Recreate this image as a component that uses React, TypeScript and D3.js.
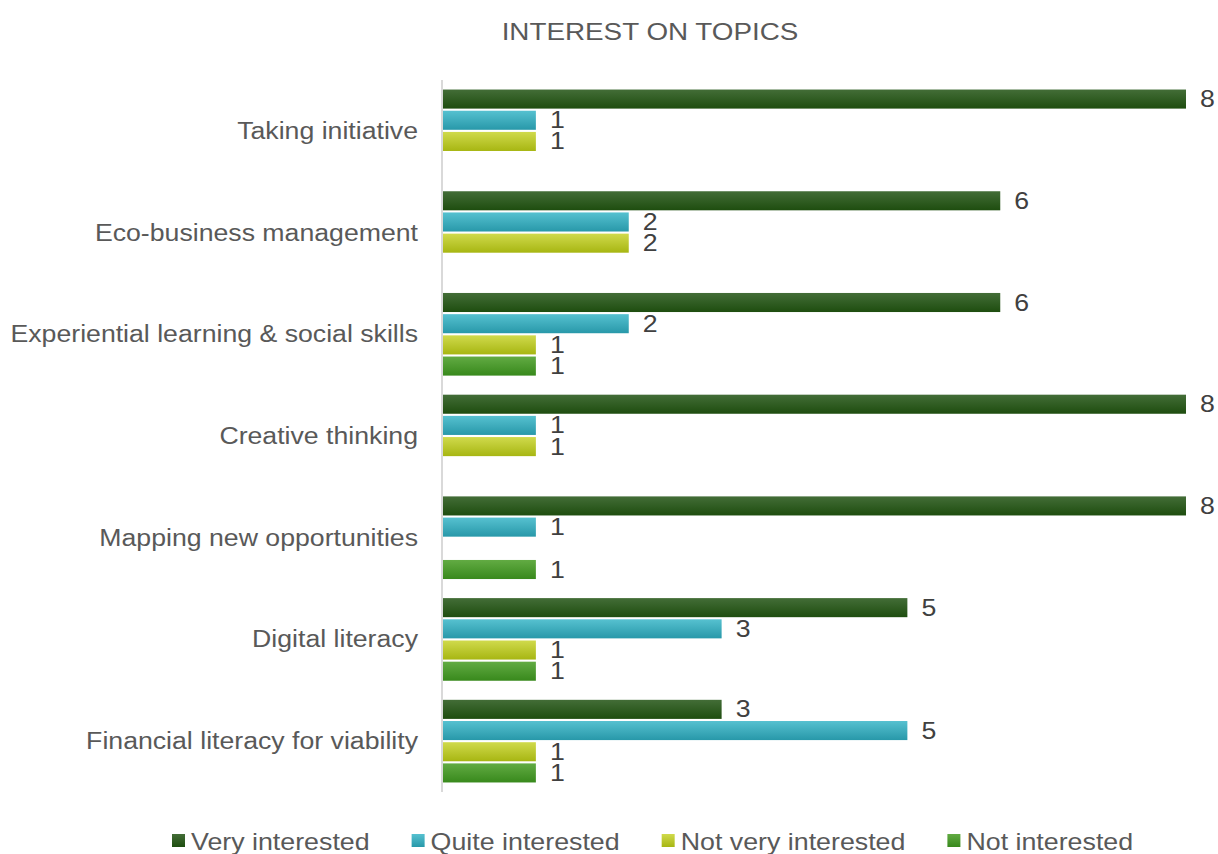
import React, { useEffect, useRef } from "react";
import * as d3 from "d3";

const categories = [
  "Taking initiative",
  "Eco-business management",
  "Experiential learning & social skills",
  "Creative thinking",
  "Mapping new opportunities",
  "Digital literacy",
  "Financial literacy for viability",
];
const seriesNames = ["Very interested", "Quite interested", "Not very interested", "Not interested"];
const veryInterested = [8, 6, 6, 8, 8, 5, 3];
const quiteInterested = [1, 2, 2, 1, 1, 3, 5];
const notVeryInterested = [1, 2, 1, 1, 0, 1, 1];
const notInterested = [0, 0, 1, 0, 1, 1, 1];
const seriesValues = [veryInterested, quiteInterested, notVeryInterested, notInterested];
const gradTop = ["#436d37", "#56c1d0", "#d0da4c", "#62ab43"];
const gradBottom = ["#1e4d0f", "#2898a9", "#a7b612", "#38891c"];

const W = 1218;
const H = 854;
const FS = 23;

export default function App() {
  const ref = useRef<SVGSVGElement | null>(null);
  useEffect(() => {
    const svg = d3.select(ref.current);
    svg.selectAll("*").remove();
    const defs = svg.append("defs");
    seriesNames.forEach((_, i) => {
      const g = defs.append("linearGradient").attr("id", "g" + i).attr("x1", 0).attr("y1", 0).attr("x2", 0).attr("y2", 1);
      g.append("stop").attr("offset", "0%").attr("stop-color", gradTop[i]);
      g.append("stop").attr("offset", "100%").attr("stop-color", gradBottom[i]);
    });

    const left = 443, top = 80, bottom = 792;
    const x = d3.scaleLinear().domain([0, 8]).range([left, 1186]);
    const y = d3.scaleBand<string>().domain(categories).range([top, bottom]).padding(0);
    const yi = d3.scaleBand<string>().domain(seriesNames).range([0, y.bandwidth()]).paddingInner(0.1).paddingOuter(0.45);

    const txt = (sel: any, s: string, tx: number, ty: number, anchor: string, fill: string, sx: number) => {
      return sel.append("text")
        .attr("transform", `translate(${tx},${ty}) scale(${sx},1)`)
        .attr("text-anchor", anchor)
        .attr("font-family", "'Liberation Sans', Arial, sans-serif")
        .attr("font-size", FS)
        .attr("fill", fill)
        .text(s);
    };

    // title
    txt(svg, "INTEREST ON TOPICS", 650, 40, "middle", "#595959", 1.21);

    // bars
    const gBars = svg.append("g");
    categories.forEach((c, ci) => {
      seriesNames.forEach((s, si) => {
        const v = seriesValues[si][ci];
        if (!v) return;
        const y0 = (y(c) as number) + (yi(s) as number);
        gBars.append("rect")
          .attr("x", x(0))
          .attr("y", y0)
          .attr("width", x(v) - x(0))
          .attr("height", yi.bandwidth())
          .attr("fill", `url(#g${si})`);
        txt(gBars, String(v), x(v) + 14, y0 + yi.bandwidth() / 2 + 8, "start", "#404040", 1.16);
      });
      txt(svg, c, 418, (y(c) as number) + y.bandwidth() / 2 + 8, "end", "#595959", 1.16);
    });

    // axis line
    svg.append("line")
      .attr("x1", left - 1).attr("x2", left - 1)
      .attr("y1", top).attr("y2", bottom)
      .attr("stroke", "#d9d9d9").attr("stroke-width", 2);

    // legend
    const lg = svg.append("g");
    let lx = 172;
    const LSX = 1.165;
    seriesNames.forEach((s, i) => {
      lg.append("rect").attr("x", lx).attr("y", 834).attr("width", 13).attr("height", 13).attr("fill", `url(#g${i})`);
      const t = txt(lg, s, lx + 19, 850, "start", "#595959", LSX);
      const w = (t.node() as SVGTextElement).getComputedTextLength() * LSX;
      lx = lx + 19 + w + 42;
    });
  }, []);
  return (
    <svg ref={ref} width={W} height={H} style={{ position: "absolute", left: 0, top: 0, background: "#fff" }} />
  );
}
